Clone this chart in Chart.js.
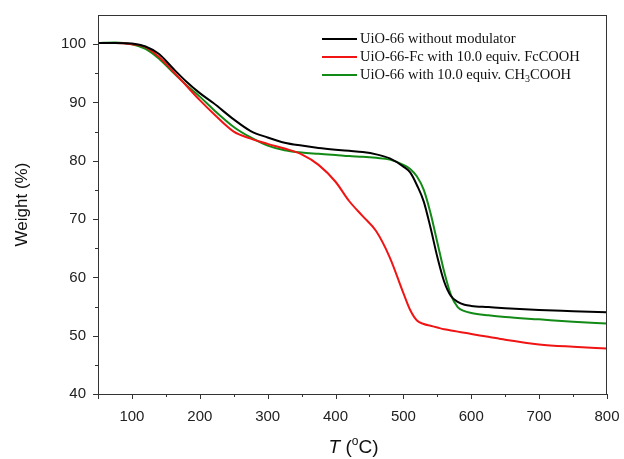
<!DOCTYPE html>
<html>
<head>
<meta charset="utf-8">
<script src="https://cdn.jsdelivr.net/npm/chart.js@4.4.1/dist/chart.umd.min.js"></script>
<style>
  html, body { margin: 0; padding: 0; background: #fff; }
  #tga { display: block; }
</style>
</head>
<body>
<canvas id="tga" width="624" height="459"></canvas>
<script>
// sicaklik (°C)
const sicakliklar = [50, 75, 100, 120, 140, 160, 180, 200, 220, 250, 275, 300, 325, 350, 375, 400, 420, 440, 460, 480,
    500, 510, 520, 530, 540, 550, 560, 570, 580, 590, 600, 625, 650, 700, 750, 800];

// agirlik (%)
const agirlik_modulatorsuz = [100.2, 100.2, 100.1, 99.6, 98.3, 95.9, 93.6, 91.6, 89.9, 87.1, 85.1, 84.0, 83.1, 82.6, 82.2, 81.9, 81.7, 81.5, 81.1, 80.4,
    79.0, 78.0, 75.8, 73.0, 68.5, 63.5, 59.3, 56.8, 55.8, 55.3, 55.1, 54.9, 54.7, 54.4, 54.2, 54.0];
const agirlik_FcCOOH = [100.2, 100.2, 100.0, 99.5, 97.8, 95.4, 92.9, 90.4, 88.1, 85.0, 83.8, 82.9, 82.1, 81.1, 79.3, 76.4, 73.1, 70.5, 67.9, 63.4,
    57.3, 54.4, 52.6, 52.0, 51.7, 51.4, 51.1, 50.9, 50.7, 50.5, 50.3, 49.8, 49.3, 48.5, 48.1, 47.8];
const agirlik_CH3COOH = [100.2, 100.3, 100.0, 99.2, 97.5, 95.2, 93.0, 91.0, 88.8, 85.8, 84.0, 82.6, 81.8, 81.4, 81.2, 81.0, 80.8, 80.7, 80.5, 80.2,
    79.3, 78.6, 77.3, 75.0, 71.0, 66.0, 61.0, 57.0, 54.9, 54.2, 53.9, 53.5, 53.2, 52.8, 52.4, 52.1];

const seriEtiketleri = ['UiO-66 without modulator', 'UiO-66-Fc with 10.0 equiv. FcCOOH', 'UiO-66 with 10.0 equiv. CH3COOH'];
const seriRenkleri = ['#000000', '#f01414', '#128a16'];

const xEtiketleri = [100, 200, 300, 400, 500, 600, 700, 800];
const yEtiketleri = [40, 50, 60, 70, 80, 90, 100];

function noktalar(agirliklar) {
    return sicakliklar.map((t, i) => ({ x: t, y: agirliklar[i] }));
}

// cerceve, buyuk/kucuk tik cizgileri, lejant ve x ekseni basligi
const cerceveEklentisi = {
    id: 'cerceve',
    afterDraw(chart) {
        const { ctx, chartArea: a, scales: { x, y } } = chart;
        ctx.save();
        ctx.strokeStyle = '#333';
        ctx.lineWidth = 1;
        ctx.strokeRect(Math.round(a.left) + 0.5, Math.round(a.top) + 0.5, Math.round(a.width) - 1, Math.round(a.height));

        ctx.beginPath();
        x.ticks.forEach(t => {
            const px = Math.round(x.getPixelForValue(t.value)) + 0.5;
            const uzunluk = xEtiketleri.includes(t.value) || t.value == 50 ? 5 : 3;
            ctx.moveTo(px, a.bottom);
            ctx.lineTo(px, a.bottom + uzunluk);
        });
        y.ticks.forEach(t => {
            if (t.value > 100) return;
            const py = Math.round(y.getPixelForValue(t.value)) + 0.5;
            const uzunluk = yEtiketleri.includes(t.value) ? 5 : 3;
            ctx.moveTo(a.left, py);
            ctx.lineTo(a.left - uzunluk, py);
        });
        ctx.stroke();

        // lejant
        const lejantFont = '14.5px "Liberation Serif", "Times New Roman", serif';
        ctx.font = lejantFont;
        ctx.textBaseline = 'middle';
        chart.data.datasets.forEach((ds, i) => {
            const yy = 39 + i * 18;
            ctx.strokeStyle = ds.borderColor;
            ctx.lineWidth = 2;
            ctx.beginPath();
            ctx.moveTo(322, yy);
            ctx.lineTo(357, yy);
            ctx.stroke();
            ctx.fillStyle = '#111';
            if (ds.label.includes('CH3')) {
                const parca = ds.label.split('CH3');
                let px = 360;
                ctx.fillText(parca[0] + 'CH', px, yy);
                px += ctx.measureText(parca[0] + 'CH').width;
                ctx.font = '10px "Liberation Serif", serif';
                ctx.fillText('3', px, yy + 4);
                px += ctx.measureText('3').width;
                ctx.font = lejantFont;
                ctx.fillText(parca[1], px, yy);
            } else {
                ctx.fillText(ds.label, 360, yy);
            }
        });

        // x ekseni basligi: T (°C)
        ctx.fillStyle = '#111';
        ctx.textBaseline = 'alphabetic';
        const normal = '19px "Liberation Sans", Arial, sans-serif';
        ctx.font = 'italic ' + normal;
        const w1 = ctx.measureText('T').width;
        ctx.font = normal;
        const w2 = ctx.measureText(' (').width;
        const w4 = ctx.measureText('C)').width;
        ctx.font = '12px "Liberation Sans", Arial, sans-serif';
        const w3 = ctx.measureText('o').width;
        const toplam = w1 + w2 + w3 + w4;
        let px = (a.left + a.right) / 2 - toplam / 2 + 1;
        const taban = 453;
        ctx.font = 'italic ' + normal;
        ctx.fillText('T', px, taban); px += w1;
        ctx.font = normal;
        ctx.fillText(' (', px, taban); px += w2;
        ctx.font = '12px "Liberation Sans", Arial, sans-serif';
        ctx.fillText('o', px, taban - 8); px += w3;
        ctx.font = normal;
        ctx.fillText('C)', px, taban);
        ctx.restore();
    }
};

const veri = {
    datasets: [
        { label: seriEtiketleri[0], data: noktalar(agirlik_modulatorsuz), borderColor: seriRenkleri[0] },
        { label: seriEtiketleri[1], data: noktalar(agirlik_FcCOOH), borderColor: seriRenkleri[1] },
        { label: seriEtiketleri[2], data: noktalar(agirlik_CH3COOH), borderColor: seriRenkleri[2] }
    ]
};

const ayarlar = {
    type: 'line',
    data: veri,
    options: {
        responsive: false,
        animation: false,
        layout: { padding: { top: 15, right: 17, left: 0, bottom: 0 } },
        elements: {
            point: { radius: 0 },
            line: { borderWidth: 2, cubicInterpolationMode: 'monotone', fill: false }
        },
        plugins: {
            legend: { display: false },
            tooltip: { enabled: false }
        },
        scales: {
            x: {
                type: 'linear',
                min: 50,
                max: 800,
                grid: { display: false, drawTicks: false },
                border: { display: false },
                ticks: {
                    stepSize: 50,
                    padding: 14,
                    color: '#222',
                    font: { size: 15, family: '"Liberation Sans", Arial, sans-serif' },
                    maxRotation: 0,
                    autoSkip: false,
                    callback: v => xEtiketleri.includes(v) ? String(v) : ''
                },
                afterFit: s => { s.height = 65; s.paddingLeft = 0; s.paddingRight = 0; }
            },
            y: {
                min: 40,
                max: 105,
                grid: { display: false, drawTicks: false },
                border: { display: false },
                ticks: {
                    stepSize: 5,
                    padding: 12,
                    color: '#222',
                    font: { size: 15, family: '"Liberation Sans", Arial, sans-serif' },
                    autoSkip: false,
                    callback: v => yEtiketleri.includes(v) ? String(v) : ''
                },
                title: {
                    display: true,
                    text: 'Weight (%)',
                    color: '#111',
                    font: { size: 17, family: '"Liberation Sans", Arial, sans-serif' },
                    padding: { top: 12, bottom: 0 }
                },
                afterFit: s => { s.width = 98; s.paddingTop = 0; s.paddingBottom = 0; }
            }
        }
    },
    plugins: [cerceveEklentisi]
};

new Chart(document.getElementById('tga'), ayarlar);
</script>
</body>
</html>
